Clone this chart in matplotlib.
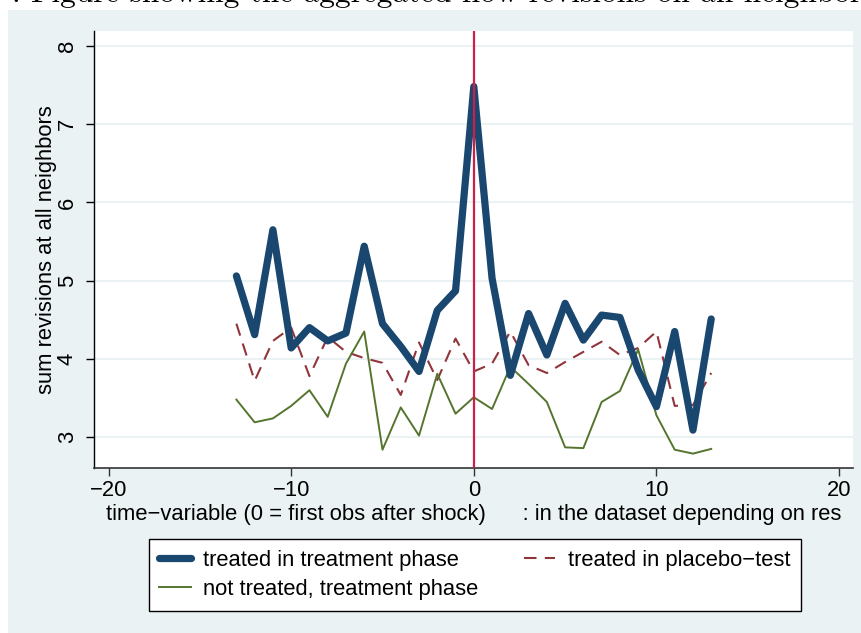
import numpy as np
import matplotlib
matplotlib.use("Agg")
import matplotlib.pyplot as plt
from matplotlib.patches import Rectangle

# data
t = np.arange(-13, 14)
treated = [5.06, 4.31, 5.65, 4.14, 4.40, 4.23, 4.33, 5.44, 4.45, 4.16, 3.84, 4.62, 4.87,
           7.48, 5.03, 3.79, 4.58, 4.05, 4.71, 4.24, 4.56, 4.53, 3.86, 3.39, 4.35, 3.09, 4.51]
placebo = [4.45, 3.72, 4.23, 4.40, 3.78, 4.28, 4.09, 4.01, 3.95, 3.54, 4.21, 3.73, 4.26,
           3.84, 3.94, 4.35, 3.92, 3.82, 3.96, 4.09, 4.22, 4.05, 4.14, 4.35, 3.40, 3.41, 3.82]
not_treated = [3.48, 3.19, 3.24, 3.40, 3.60, 3.26, 3.94, 4.35, 2.84, 3.38, 3.02, 3.81, 3.30,
               3.51, 3.36, 3.90, 3.68, 3.45, 2.87, 2.86, 3.45, 3.59, 4.12, 3.28, 2.84, 2.79, 2.85]
xticks = [-20, -10, 0, 10, 20]
yticks = [3, 4, 5, 6, 7, 8]

navy = "#1A476F"
maroon = "#90353B"
green = "#55752F"
bg = "#EAF2F3"
fs = 15.8

plt.rcParams["font.family"] = ["Liberation Sans", "DejaVu Sans"]
W, H = 862, 633
fig = plt.figure(figsize=(W / 100, H / 100), dpi=100, facecolor="white")

# stata graph region (light bluish gray) with a white strip at top/left
fig.patches.append(Rectangle((8 / W, 0), 1 - 8 / W, 1 - 10 / H, transform=fig.transFigure,
                             facecolor=bg, edgecolor="none", zorder=-10))
# caption of the document, cut off at the top
fig.text(12 / W, 1 - 2 / H, ": Figure showing the aggregated flow revisions on all neighbors",
         family="cmr10", fontsize=22.5, ha="left", va="baseline", color="black", zorder=-5)

ax = fig.add_axes([94.3 / W, 1 - 467.7 / H, (853.3 - 94.3) / W, (467.7 - 31) / H])
ax.set_facecolor("white")

for yv in yticks:
    ax.axhline(yv, color=bg, lw=1.5, zorder=0)
ax.axvline(0, color="#CC1F4A", lw=1.6, zorder=4)

l1, = ax.plot(t, treated, color=navy, lw=5.2, solid_joinstyle="round", solid_capstyle="round",
              zorder=3, label="treated in treatment phase")
l2, = ax.plot(t, placebo, color=maroon, lw=1.5, dashes=(6, 4), zorder=2,
              label="treated in placebo\u2212test")
l3, = ax.plot(t, not_treated, color=green, lw=1.4, zorder=2,
              label="not treated, treatment phase")

ax.set_xlim(-20.78, 20.78)
ax.set_ylim(2.61, 8.19)
ax.set_xticks(xticks)
ax.set_xticklabels([str(v).replace("-", "\u2212") for v in xticks])
ax.set_yticks(yticks)
ax.set_yticklabels([str(v) for v in yticks], rotation=90, va="center")
ax.tick_params(axis="both", direction="out", length=6, width=1, labelsize=fs, colors="black")
ax.tick_params(axis="x", pad=3, color="#333333")
ax.tick_params(axis="y", pad=6)

for s in ["top", "right"]:
    ax.spines[s].set_visible(False)
ax.spines["left"].set_color("black")
ax.spines["bottom"].set_color("#333333")
ax.spines["left"].set_linewidth(1)
ax.spines["bottom"].set_linewidth(1.2)

ax.set_xlabel("time\u2212variable (0 = first obs after shock)      : in the dataset depending on res",
              fontsize=fs, labelpad=2)
ax.set_ylabel("sum revisions at all neighbors", fontsize=fs, labelpad=0)

leg = fig.legend(handles=[l1, l3, l2], ncol=2, loc="upper left",
                 bbox_to_anchor=(148.5 / W, 1 - 539 / H, (801 - 148.5) / W, 0),
                 mode="expand", borderaxespad=0, fontsize=fs, frameon=True, fancybox=False,
                 handlelength=1.45, handletextpad=0.55, labelspacing=0.35, borderpad=0.5,
                 columnspacing=1.0)
leg.get_frame().set_edgecolor("black")
leg.get_frame().set_linewidth(1)
leg.get_frame().set_facecolor("white")
leg.get_frame().set_alpha(1)

fig.savefig("out.png", dpi=100, facecolor="white")
